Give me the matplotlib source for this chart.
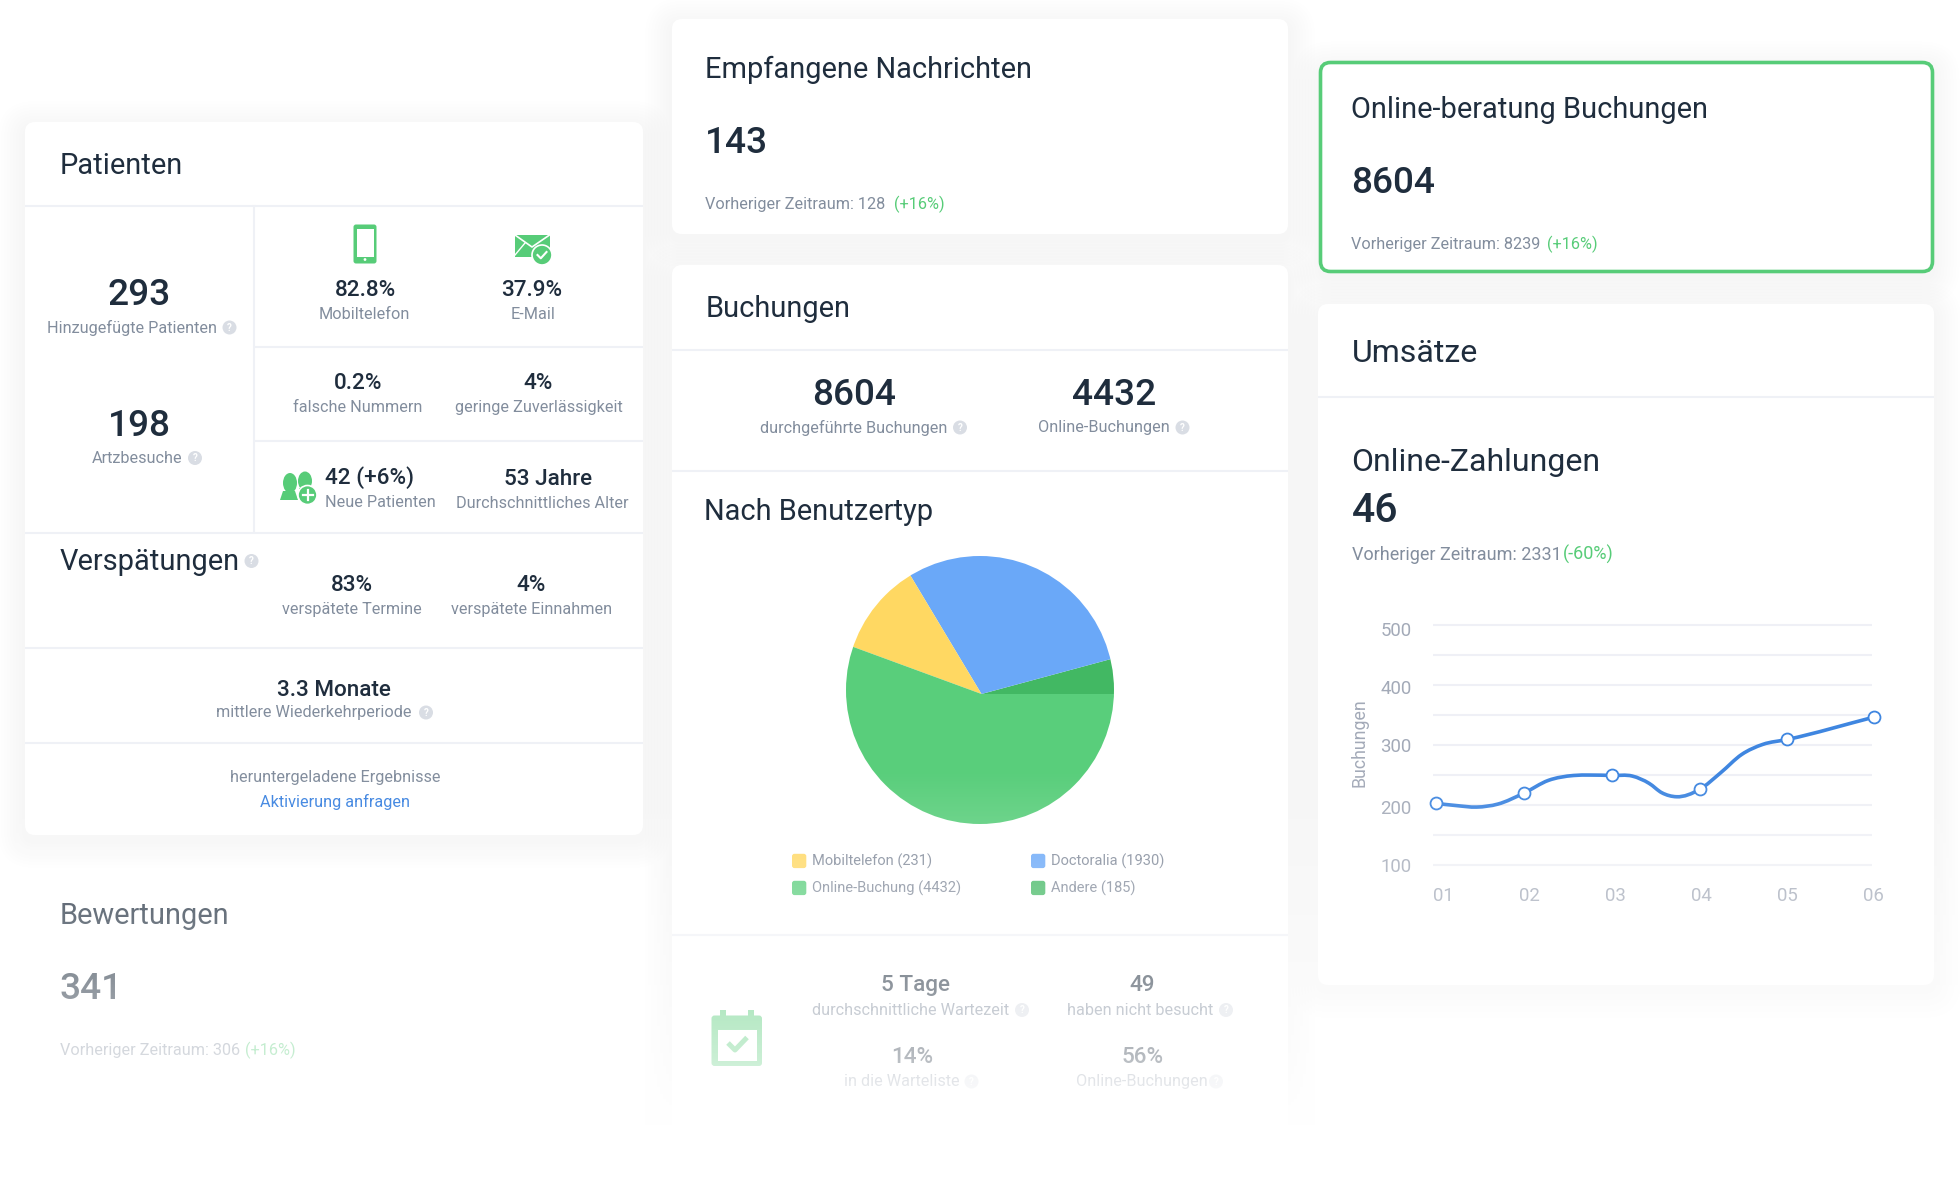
import numpy as np
import matplotlib
matplotlib.use("Agg")
import matplotlib.pyplot as plt
from matplotlib.patches import FancyBboxPatch, Rectangle, Circle, Polygon, PathPatch, Ellipse
from matplotlib.path import Path
from matplotlib.transforms import Affine2D

plt.rcParams['font.family'] = ['Roboto', 'DejaVu Sans']

# ---- data ----
pie_labels = ["Andere (185)", "Doctoralia (1930)", "Mobiltelefon (231)", "Online-Buchung (4432)"]
pie_shares = [4.2, 29.4, 10.8, 55.6]
months = [1, 2, 3, 4, 5, 6]
month_labels = ["01", "02", "03", "04", "05", "06"]
point_pos = [0.92, 1.94, 2.96, 3.98, 5.0, 6.0]
point_vals = [202.5, 219.7, 249, 225.8, 309, 346]
curve_pos = [0.92, 1.149, 1.393, 1.637, 1.94, 2.223, 2.516, 2.71, 2.96, 3.199, 3.395, 3.541, 3.712, 3.98, 4.225, 4.469, 4.713, 5.0, 6.0]
curve_vals = [202.5, 199, 196.4, 201.4, 219.7, 240.8, 249, 249.7, 249, 248, 235.8, 220.3, 213.6, 225.8, 253.6, 284, 300.7, 309, 346]
y_ticks = [100, 200, 300, 400, 500]
y_grid = [100, 150, 200, 250, 300, 350, 400, 450, 500]

W, H = 1960, 1184
DARK = "#1f2d3d"; GRAY = "#828d9d"; GREEN = "#57cc78"; LINE = "#eff1f6"
SMALL = 16.3; MID = 22.5
fig = plt.figure(figsize=(W/100, H/100), dpi=100, facecolor="white")
bg = fig.add_axes([0, 0, 1, 1]); bg.set_xlim(0, W); bg.set_ylim(H, 0); bg.axis("off")


def card(x0, y0, x1, y1, r=10, edge=None, shadow=True):
    if shadow:
        for i in range(9, 0, -1):
            p = 3*i
            bg.add_patch(FancyBboxPatch((x0-p+r, y0-p+6+r), x1-x0+2*p-2*r, y1-y0+2*p-2*r,
                                        boxstyle=f"round,pad={r},rounding_size={r+p}",
                                        fc="#4a5a80", ec="none", alpha=0.0022, zorder=1))
    bg.add_patch(FancyBboxPatch((x0+r, y0+r), x1-x0-2*r, y1-y0-2*r,
                                boxstyle=f"round,pad={r},rounding_size={r}",
                                fc="white", ec=edge or "none", lw=2.6 if edge else 0, zorder=2))


def T(x, y, s, px, color=GRAY, weight=400, ha="center", **kw):
    return bg.text(x, y - 0.5 + max(0, px*0.12-1), s, fontsize=px*0.72, color=color, fontweight=weight, ha=ha,
                   va="center", zorder=5, **kw)


def hl(y, x0, x1):
    bg.plot([x0, x1], [y, y], color=LINE, lw=1.5, zorder=3, solid_capstyle="butt")


def help_icon(x, y):
    bg.add_patch(Circle((x, y), 7, fc="#d9dde4", ec="none", zorder=5))
    bg.text(x, y+0.3, "?", fontsize=7, color="white", fontweight=700, ha="center", va="center", zorder=6)


# ---- cards ----
card(25, 122, 643, 835)
card(25, 875, 643, 1095, shadow=False)
card(672, 19, 1288, 234)
card(672, 265, 1288, 1145)
card(1320.5, 62.5, 1932.5, 271.5, edge=GREEN)
card(1318, 304, 1934, 985)

# ---- Patienten ----
T(60, 164, "Patienten", 29, DARK, ha="left")
hl(205.5, 25, 643); hl(346.5, 254, 643); hl(441, 254, 643); hl(532.5, 25, 643); hl(648, 25, 643); hl(743, 25, 643)
bg.plot([253.5, 253.5], [206, 532], color=LINE, lw=1.5, zorder=3)
T(139, 293, "293", 37, DARK, 500)
T(132, 328, "Hinzugefügte Patienten", SMALL); help_icon(229.5, 327.5)
T(139, 424, "198", 37, DARK, 500)
T(137.5, 458, "Artzbesuche", SMALL); help_icon(195, 458)

# phone
bg.add_patch(FancyBboxPatch((355, 226), 20, 36, boxstyle="round,pad=1.5,rounding_size=2.5", fc=GREEN, ec="none", zorder=4))
bg.add_patch(Rectangle((356.5, 228.5), 17.5, 28, fc="white", ec="none", zorder=5))
bg.add_patch(Circle((365, 259.5), 1.4, fc="white", ec="none", zorder=5))
# envelope
bg.add_patch(Rectangle((515, 235), 34.5, 21.5, fc=GREEN, ec="none", zorder=4))
bg.plot([515, 532, 549.5], [235, 247, 235], color="white", lw=1.2, zorder=5)
bg.plot([515, 525], [255, 243], color="white", lw=1.0, zorder=5)
bg.add_patch(Circle((542, 255), 10, fc=GREEN, ec="white", lw=1.2, zorder=6))
bg.plot([537.5, 540.8, 546.5], [255, 258.3, 252], color="white", lw=1.5, zorder=7)

T(365, 289, "82.8%", MID, DARK, 500); T(364.5, 314.5, "Mobiltelefon", SMALL)
T(532, 289, "37.9%", MID, DARK, 500); T(533.5, 314.5, "E-Mail", SMALL)
T(358, 382, "0.2%", MID, DARK, 500); T(358, 407, "falsche Nummern", SMALL)
T(538, 382, "4%", MID, DARK, 500); T(539, 407, "geringe Zuverlässigkeit", SMALL)

# people
bg.add_patch(Ellipse((290, 483), 14, 20, fc=GREEN, ec="none", zorder=4))
bg.add_patch(Ellipse((305, 481), 14, 19, fc=GREEN, ec="none", zorder=4))
bg.add_patch(Polygon([(280, 500), (283, 491), (295, 491), (298, 500)], fc=GREEN, ec="none", zorder=4))
bg.add_patch(Polygon([(299, 488), (311, 488), (311, 494), (299, 494)], fc=GREEN, ec="none", zorder=4))
bg.add_patch(Circle((307.5, 495), 9.5, fc=GREEN, ec="white", lw=1.2, zorder=6))
bg.plot([302.5, 312.5], [495, 495], color="white", lw=1.6, zorder=7)
bg.plot([307.5, 307.5], [490, 500], color="white", lw=1.6, zorder=7)

T(325, 476.5, "42 (+6%)", MID, DARK, 500, ha="left"); T(325, 502, "Neue Patienten", SMALL, ha="left")
T(548, 478, "53 Jahre", MID, DARK, 500); T(542.5, 503, "Durchschnittliches Alter", SMALL)

T(60, 560, "Verspätungen", 29, DARK, ha="left"); help_icon(251.5, 561)
T(351.5, 584, "83%", MID, DARK, 500); T(351.5, 609, "verspätete Termine", SMALL)
T(531, 584, "4%", MID, DARK, 500); T(531.5, 609, "verspätete Einnahmen", SMALL)
T(334, 689, "3.3 Monate", MID, DARK, 500); T(314, 712.5, "mittlere Wiederkehrperiode", SMALL); help_icon(426, 712.5)
T(335, 777.5, "heruntergeladene Ergebnisse", SMALL)
T(334.5, 801.5, "Aktivierung anfragen", SMALL, "#3a82e0")

T(59.5, 914, "Bewertungen", 29, DARK, ha="left")
T(59.5, 987, "341", 37, DARK, 500, ha="left")
T(59.5, 1050, "Vorheriger Zeitraum: 306", SMALL, ha="left")
T(245, 1050, "(+16%)", SMALL, GREEN, ha="left")

# ---- Empfangene ----
T(705, 68, "Empfangene Nachrichten", 29, DARK, ha="left")
T(705, 141, "143", 37, DARK, 500, ha="left")
T(705, 204, "Vorheriger Zeitraum: 128", SMALL, ha="left")
T(893.5, 204, "(+16%)", SMALL, GREEN, ha="left")

# ---- Buchungen ----
T(706, 307.5, "Buchungen", 29, DARK, ha="left")
hl(350, 672, 1288); hl(470.5, 672, 1288); hl(935, 672, 1288)
T(854, 392.5, "8604", 37, DARK, 500); T(854, 427.5, "durchgeführte Buchungen", SMALL); help_icon(960, 427.5)
T(1114, 392.5, "4432", 37, DARK, 500); T(1104, 427.5, "Online-Buchungen", SMALL); help_icon(1182.5, 427.5)
T(704, 510, "Nach Benutzertyp", 29, DARK, ha="left")

# legend swatches and labels
legend_cells = [(792, 861, 2), (1031, 861, 1), (792, 888, 3), (1031, 888, 0)]
pie_colors = ["#42b863", "#6aa8f8", "#ffd862", "#59ce7b"]
for x, y, k in legend_cells:
    bg.add_patch(FancyBboxPatch((x+2, y-5.2), 10.3, 10.3, boxstyle="round,pad=2,rounding_size=2.5",
                                fc=pie_colors[k], ec="none", zorder=4))
    T(x+20.3, y, pie_labels[k], 14.6, "#7f8898", ha="left")

# bottom stats
T(915, 984.5, "5 Tage", MID, DARK, 500); T(911, 1010, "durchschnittliche Wartezeit", SMALL); help_icon(1022, 1010)
T(1142.5, 984.5, "49", MID, DARK, 500); T(1140.5, 1010.5, "haben nicht besucht", SMALL); help_icon(1226, 1010)
T(912.5, 1056.5, "14%", MID, DARK, 500); T(901.5, 1081.5, "in die Warteliste", SMALL); help_icon(971.5, 1081.5)
T(1142.5, 1056.5, "56%", MID, DARK, 500); T(1142, 1081.5, "Online-Buchungen", SMALL); help_icon(1216, 1081.5)

# calendar
bg.add_patch(FancyBboxPatch((713.5, 1017.5), 46.5, 46.5, boxstyle="round,pad=2,rounding_size=3", fc=GREEN, ec="none", zorder=4))
bg.add_patch(Rectangle((720, 1010), 6, 8, fc=GREEN, ec="none", zorder=4))
bg.add_patch(Rectangle((747.5, 1010), 6, 8, fc=GREEN, ec="none", zorder=4))
bg.add_patch(Rectangle((717.5, 1030), 39, 30.5, fc="white", ec="none", zorder=5))
bg.plot([728, 735, 747], [1043, 1050, 1037.5], color=GREEN, lw=3.6, zorder=6, solid_capstyle="butt")

# ---- Online-Beratung ----
T(1351, 108, "Online-beratung Buchungen", 29, DARK, ha="left")
T(1351, 181, "8604", 37, DARK, 500, ha="left")
T(1351, 244, "Vorheriger Zeitraum: 8239", SMALL, ha="left")
T(1547, 244, "(+16%)", SMALL, GREEN, ha="left")

# ---- Umsätze ----
T(1351.5, 351, "Umsätze", 32, DARK, ha="left")
hl(396.5, 1318, 1934)
T(1351.5, 460, "Online-Zahlungen", 32, DARK, ha="left")
T(1351.5, 508, "46", 41, DARK, 500, ha="left")
T(1351.5, 554, "Vorheriger Zeitraum: 2331", 18, ha="left")
T(1562.5, 554, "(-60%)", 18, GREEN, ha="left")

# ---- pie ----
def axes_px(x0, y0, x1, y1, **kw):
    return fig.add_axes([x0/W, 1-y1/H, (x1-x0)/W, (y1-y0)/H], **kw)


pa = axes_px(980-134, 690-134, 980+134, 690+134, zorder=10)
wedges, _ = pa.pie(pie_shares, colors=pie_colors, startangle=0, counterclock=True, radius=1.12,
                   center=(1.5/134, -4/134), wedgeprops=dict(lw=0))
pa.set_xlim(-1, 1); pa.set_ylim(-1, 1); pa.set_aspect("equal"); pa.axis("off")
clip = Circle((0, 0), 1.0, transform=pa.transData)
for w in wedges:
    w.set_clip_on(True)
    w.set_clip_path(clip)

# ---- line chart ----
la = axes_px(1432.6, 624.7, 1873.5, 865, zorder=10)
la.patch.set_alpha(0)
la.set_xlim(0.879, 5.988); la.set_ylim(100, 500)
for s in la.spines.values():
    s.set_visible(False)
la.hlines(y_grid, 0.879, 5.988, color="#eff0f6", lw=1.5, zorder=1, clip_on=False)
la.set_xticks(months, month_labels)
la.set_yticks(y_ticks, [str(v) for v in y_ticks])
la.tick_params(length=0, labelsize=13.4, labelcolor="#a3aab8")
la.tick_params(axis="x", pad=16)
la.tick_params(axis="y", pad=15)
for lbl, dy in zip(la.get_yticklabels(), [0, 2, 0, 2, 4]):
    lbl.set_transform(lbl.get_transform() + Affine2D().translate(0, -dy))
la.set_ylabel("Buchungen", fontsize=12.8, color="#a3aab8")
la.yaxis.set_label_coords(-0.146, 0.51)

cx = np.array(curve_pos); cy = np.array(curve_vals)
slope = np.gradient(cy, cx)
verts = [(cx[0], cy[0])]; codes = [Path.MOVETO]
for i in range(len(cx)-1):
    h = cx[i+1]-cx[i]
    verts += [(cx[i]+h/3, cy[i]+slope[i]*h/3), (cx[i+1]-h/3, cy[i+1]-slope[i+1]*h/3), (cx[i+1], cy[i+1])]
    codes += [Path.CURVE4]*3
la.add_patch(PathPatch(Path(verts, codes), fc="none", ec="#3f86e0", lw=2.6, zorder=3, clip_on=False))
la.plot(point_pos, point_vals, ls="none", marker="o", ms=8.6, mfc="white", mec="#3f86e0", mew=1.3,
        zorder=4, clip_on=False)

# ---- fade to white towards the bottom ----
ov = fig.add_axes([0, 0, 1, 1], zorder=50); ov.axis("off"); ov.patch.set_alpha(0)
ys = np.arange(H)
al = np.interp(ys, [770, 984, 1056, 1090, 1125], [0, .5, .68, .82, 1])
rgba = np.ones((H, 1, 4)); rgba[:, 0, 3] = al
ov.imshow(rgba, extent=(0, W, H, 0), aspect="auto", interpolation="bilinear")
ov.set_xlim(0, W); ov.set_ylim(H, 0)

fig.savefig("out.png", dpi=100, facecolor="white")
